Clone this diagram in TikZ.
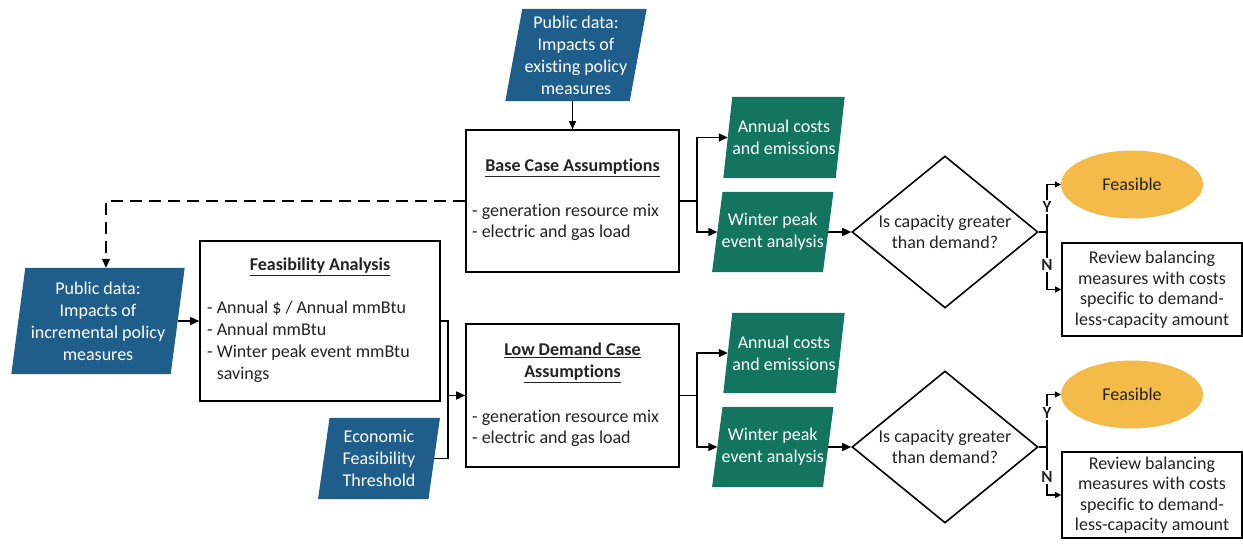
\documentclass[tikz,border=0pt]{standalone}
\usepackage{fontspec}
\setmainfont{Carlito}[Ligatures=NoCommon]
\usetikzlibrary{arrows.meta,shapes.geometric,backgrounds,calc}
\definecolor{pblue}{RGB}{31,94,139}
\definecolor{pgreen}{RGB}{19,117,96}
\definecolor{porange}{RGB}{245,187,72}
\definecolor{ink}{RGB}{35,35,35}
\newcommand\parafill[3]{\fill[#3] ([xshift=#2]#1.north west) -- ([xshift=#2]#1.north east) -- ([xshift=-#2]#1.south east) -- ([xshift=-#2]#1.south west) -- cycle;}
\begin{document}
\begin{tikzpicture}[x=1pt,y=-1pt,
  font=\fontsize{18}{22}\selectfont,
  box/.style={draw=black, line width=1.6pt, inner sep=0pt, fill=white},
  para/.style={inner sep=0pt, align=center, text=white},
  conn/.style={line width=1.6pt, draw=black},
  thin/.style={line width=1.1pt, draw=black},
  arr/.style={conn, -{Triangle[length=9pt,width=8pt]}},
  sarr/.style={thin, -{Triangle[length=6pt,width=6pt]}},
  yn/.style={font=\fontsize{17}{20}\selectfont\bfseries, fill=white, inner sep=1.5pt, text=ink},
  txt/.style={text=ink, align=left, inner sep=0pt, anchor=west},
  ttl/.style={text=ink, font=\fontsize{18}{22}\selectfont\bfseries, align=center, inner sep=0pt},
  dia/.style={diamond, draw=black, line width=1.6pt, inner sep=0pt, minimum width=186pt, minimum height=152pt},
  dtext/.style={text=ink, align=center, inner sep=0pt, font=\fontsize{18}{21}\selectfont},
  feasell/.style={ellipse, fill=porange, text=ink, inner sep=0pt, minimum width=142pt, minimum height=68pt},
  review/.style={box, align=center, text=ink, font=\fontsize{18}{20.5}\selectfont, minimum width=180pt}
]
\useasboundingbox (0,0) rectangle (1243,548);

% ---- input data parallelograms
\node[para, minimum width=124pt, minimum height=92pt] (ex) at (576,55) {Public data:\\Impacts of\\existing policy\\measures};
\node[para, minimum width=159pt, minimum height=106pt] (inc) at (98,321) {Public data:\\Impacts of\\incremental policy\\measures};
\node[para, minimum width=110pt, minimum height=81pt] (econ) at (379,458.5) {Economic\\Feasibility\\Threshold};

% ---- boxes
\node[box, minimum width=213pt, minimum height=142pt] (base) at (572.5,201) {};
\node[ttl] (baset) at (572.5,168) {\underline{Base Case Assumptions}};
\node[txt, font=\fontsize{18}{21}\selectfont] (baseb) at (472,222.5) {- generation resource mix\\- electric and gas load};

\node[box, minimum width=240pt, minimum height=160pt] (feas) at (320,321) {};
\node[ttl] (feast) at (320,267) {\underline{Feasibility Analysis}};
\node[txt] (feasb) at (207,342) {- Annual \$ / Annual mmBtu\\- Annual mmBtu\\- Winter peak event mmBtu\\\hphantom{-~}savings};

\node[box, minimum width=213pt, minimum height=143pt] (low) at (572.5,395.5) {};
\node[ttl] (lowt) at (572.5,363) {\underline{Low Demand Case}\\\underline{Assumptions}};
\node[txt, font=\fontsize{18}{21}\selectfont] (lowb) at (472,428.5) {- generation resource mix\\- electric and gas load};

% ---- outputs
\node[para, minimum width=112pt, minimum height=81pt] (ac1) at (784,137.5) {Annual costs\\and emissions};
\node[para, minimum width=110.5pt, minimum height=80pt] (wp1) at (772.75,232) {Winter peak\\event analysis};
\node[para, minimum width=112pt, minimum height=80pt] (ac2) at (784,353) {Annual costs\\and emissions};
\node[para, minimum width=110.5pt, minimum height=80pt] (wp2) at (772.75,447) {Winter peak\\event analysis};

% ---- decisions
\node[dia] (d1) at (945,232) {};
\node[dtext] (d1t) at (d1) {Is capacity greater\\than demand?};
\node[dia] (d2) at (945,447) {};
\node[dtext] (d2t) at (d2) {Is capacity greater\\than demand?};

\node[feasell] (fe1) at (1132,184.5) {Feasible};
\node[feasell] (fe2) at (1132,394.5) {Feasible};
\node[review, minimum height=93pt] (rv1) at (1152,289.5) {Review balancing\\measures with costs\\specific to demand-\\less-capacity amount};
\node[review, minimum height=86pt] (rv2) at (1152,495) {Review balancing\\measures with costs\\specific to demand-\\less-capacity amount};

% ---- parallelogram fills
\begin{scope}[on background layer]
\parafill{ex}{8.5pt}{pblue}
\parafill{inc}{7pt}{pblue}
\parafill{econ}{5.75pt}{pblue}
\parafill{ac1}{4.5pt}{pgreen}
\parafill{wp1}{5.25pt}{pgreen}
\parafill{ac2}{4.5pt}{pgreen}
\parafill{wp2}{5.25pt}{pgreen}
\end{scope}

% ---- connectors
\draw[thin, -{Triangle[length=8pt,width=7pt]}] (ex.south -| base.north) -- (base.north);
\draw[conn, dash pattern=on 12pt off 7pt, -{Triangle[length=9pt,width=8pt]}] (base.west) -| ([xshift=8pt]inc.north);
\draw[arr] (inc.east) -- (feas.west);

\coordinate (j) at (448,395.5);
\draw[conn] (feas.east) -| (j);
\draw[conn] (econ.east) -| (j);
\draw[arr] (j) -- (low.west);

\coordinate (t1) at (697,201);
\draw[conn] (base.east) -- (t1);
\draw[arr] (t1) |- (ac1.west);
\draw[arr] (t1) |- (wp1.west);
\coordinate (t2) at (697,395.5);
\draw[conn] (low.east) -- (t2);
\draw[arr] (t2) |- (ac2.west);
\draw[arr] (t2) |- (wp2.west);

\draw[arr] (wp1.east) -- (d1.west);
\draw[arr] (wp2.east) -- (d2.west);

\coordinate (b1) at (1047,232);
\draw[thin] (d1.east) -- (b1);
\draw[sarr] (b1) |- (fe1.west);
\draw[sarr] (b1) |- (rv1.west);
\node[yn] (y1) at (1047,207) {Y};
\node[yn] (n1) at (1047,265) {N};

\coordinate (b2) at (1047,447);
\draw[thin] (d2.east) -- (b2);
\draw[sarr] (b2) |- (fe2.west);
\draw[sarr] (b2) |- (rv2.west);
\node[yn] (y2) at (1047,413) {Y};
\node[yn] (n2) at (1047,477) {N};
\end{tikzpicture}
\end{document}
